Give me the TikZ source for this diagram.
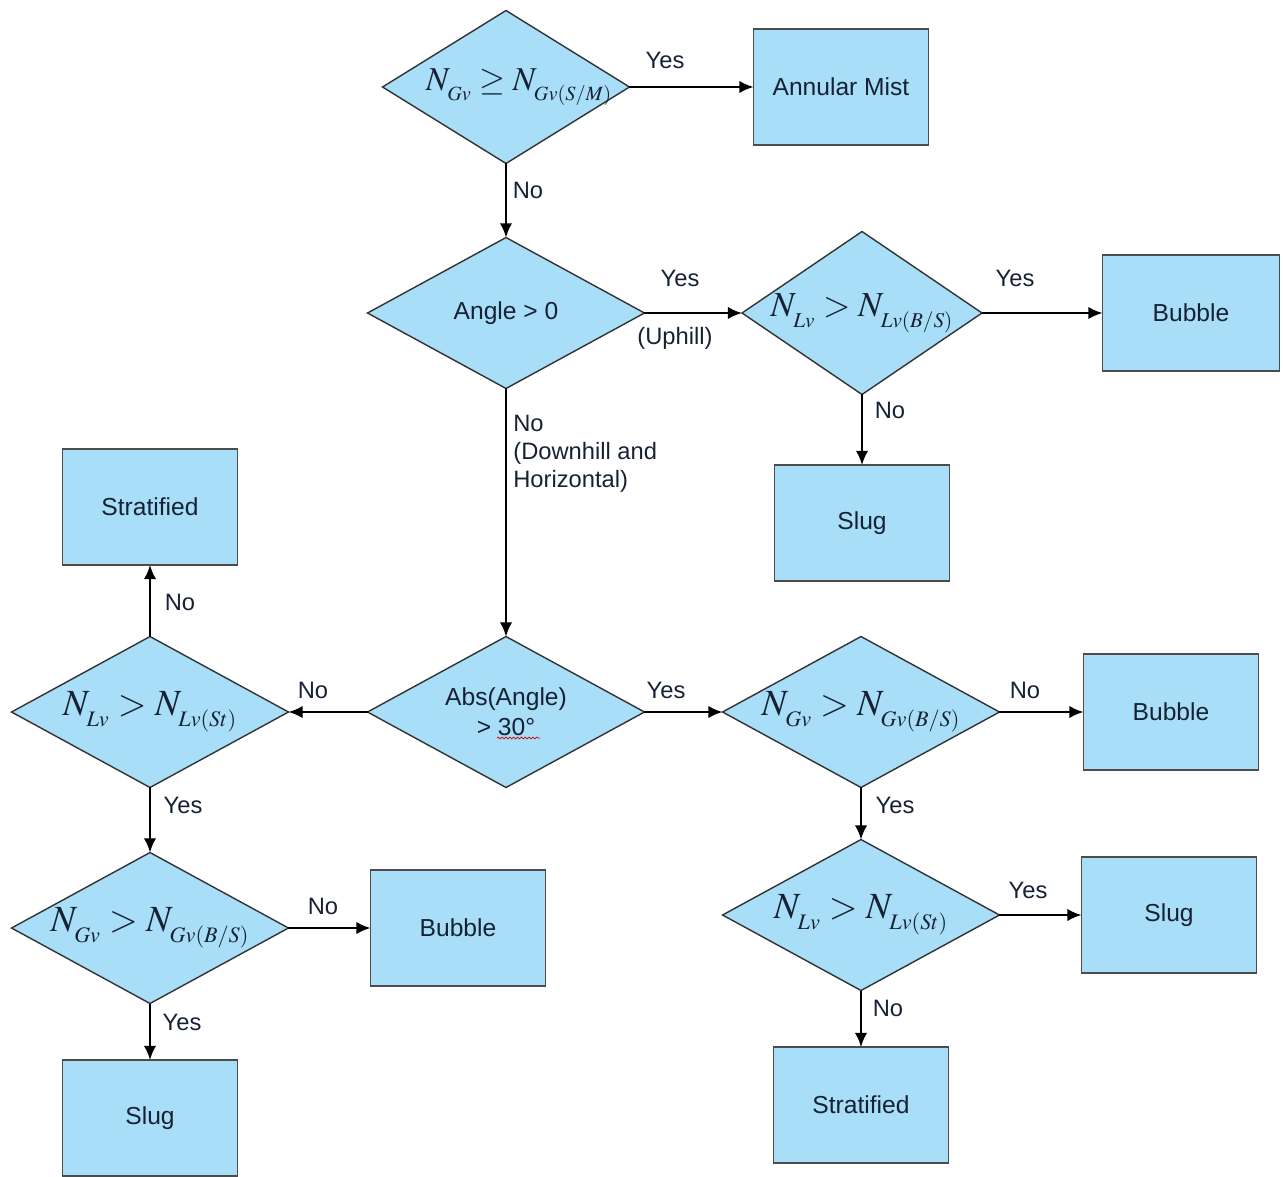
\documentclass[tikz,border=0pt]{standalone}
\usepackage{mathptmx}
\usepackage{fontspec}
\setmainfont{Liberation Sans}
\usetikzlibrary{arrows.meta,shapes.geometric,%
	decorations.pathmorphing}
\definecolor{flowfill}{RGB}{168,222,247}
\definecolor{flowtext}{RGB}{22,34,52}
\DeclareMathSizes{19}{19}{11.5}{9}
\DeclareMathSizes{20}{20}{12}{9}
\DeclareMathSizes{21}{21}{12.6}{9.5}
\newcommand{\flowmath}[2][21]{\fontsize{#1}{#1}\selectfont$#2$}
\newcommand{\flowsub}[1]{\raisebox{-3pt}{$\scriptstyle #1$}}

\begin{document}
\begin{tikzpicture}[
			x = 0.02cm, y = -0.02cm,
			font = \fontsize{14}{17}\selectfont, text = flowtext,
			Decision/.style={draw=black!80, fill=flowfill, diamond, line width=0.8pt,
				inner sep=0pt, outer sep=0pt, minimum width=5.54cm, minimum height=3.02cm},
			Regime/.style={draw=black!70, fill=flowfill, line width=0.8pt,
				inner sep=0pt, outer sep=0pt, minimum width=3.5cm, minimum height=2.32cm},
			Lbl/.style={inner sep=0pt, font=\fontsize{13.5}{16}\selectfont},
			Arrow/.style={-{Latex[length=8pt, width=7pt]}, line width=1.2pt},
			]
			\useasboundingbox (0,0) rectangle (1283,1176);
			% decisions
			\node [Decision, minimum width=4.94cm, minimum height=3.06cm,
				label={[xshift=0.26cm]center:{\flowmath[19]{N_{\flowsub{Gv}}\geq N_{\flowsub{Gv(S/M)}}}}}] (d1) at (506,87) {};
			\node [Decision, label=center:{Angle > 0}] (d2) at (506,313) {};
			\node [Decision, minimum width=4.8cm, minimum height=3.26cm,
				label=center:{\flowmath[20]{N_{\flowsub{Lv}}>N_{\flowsub{Lv(B/S)}}}}] (d3) at (862,313) {};
			\node [Decision, label={[align=center]center:{Abs(Angle)\\> 30°}}] (d4) at (506,712) {};
			\node [Decision, label=center:{\flowmath{N_{\flowsub{Lv}}>N_{\flowsub{Lv(St)}}}}] (d5) at (150,712) {};
			\node [Decision, label=center:{\flowmath{N_{\flowsub{Gv}}>N_{\flowsub{Gv(B/S)}}}}] (d6) at (150,928) {};
			\node [Decision, label=center:{\flowmath{N_{\flowsub{Gv}}>N_{\flowsub{Gv(B/S)}}}}] (d7) at (861,712) {};
			\node [Decision, label=center:{\flowmath{N_{\flowsub{Lv}}>N_{\flowsub{Lv(St)}}}}] (d8) at (861,915) {};
			% regimes
			\node [Regime] (annular) at (841,87) {Annular Mist};
			\node [Regime, minimum width=3.54cm] (bubble1) at (1191,313) {Bubble};
			\node [Regime] (slug1) at (862,523) {Slug};
			\node [Regime] (strat1) at (150,507) {Stratified};
			\node [Regime] (bubble2) at (458,928) {Bubble};
			\node [Regime] (slug2) at (150,1118) {Slug};
			\node [Regime] (bubble3) at (1171,712) {Bubble};
			\node [Regime] (slug3) at (1169,915) {Slug};
			\node [Regime] (strat2) at (861,1105) {Stratified};
			\begin{scope}[Arrow]
				\draw (d1.east) -- (annular.west);
				\draw (d1.south) -- (d2.north);
				\draw (d2.east) -- (d3.west);
				\draw (d3.east) -- (bubble1.west);
				\draw (d3.south) -- (slug1.north);
				\draw (d2.south) -- (d4.north);
				\draw (d4.west) -- (d5.east);
				\draw (d5.north) -- (strat1.south);
				\draw (d5.south) -- (d6.north);
				\draw (d6.east) -- (bubble2.west);
				\draw (d6.south) -- (slug2.north);
				\draw (d4.east) -- (d7.west);
				\draw (d7.east) -- (bubble3.west);
				\draw (d7.south) -- (d8.north);
				\draw (d8.east) -- (slug3.west);
				\draw (d8.south) -- (strat2.north);
			\end{scope}
			% labels
			\node [Lbl] (y1) at (665,60) {Yes};
			\node [Lbl] (n1) at (528,190) {No};
			\node [Lbl] (y2) at (680,278) {Yes};
			\node [Lbl] (up) at (675,338) {(Uphill)};
			\node [Lbl] (y3) at (1015,278) {Yes};
			\node [Lbl] (n3) at (890,410) {No};
			\node [Lbl, anchor=north west, align=left] (n2) at (513,415)
				{No\\(Downhill and\\Horizontal)};
			\node [Lbl] (n4) at (313,690) {No};
			\node [Lbl] (n5) at (180,602) {No};
			\node [Lbl] (y5) at (183,805) {Yes};
			\node [Lbl] (n6) at (323,906) {No};
			\node [Lbl] (y6) at (182,1022) {Yes};
			\node [Lbl] (y4) at (666,690) {Yes};
			\node [Lbl] (n7) at (1025,690) {No};
			\node [Lbl] (y7) at (895,805) {Yes};
			\node [Lbl] (y8) at (1028,890) {Yes};
			\node [Lbl] (n8) at (888,1008) {No};
			\draw [red!80!black, line width=0.4pt, decorate,
				decoration={snake, amplitude=0.5pt, segment length=2.2pt}] (497,738) -- (540,738);
		\end{tikzpicture}
\end{document}
